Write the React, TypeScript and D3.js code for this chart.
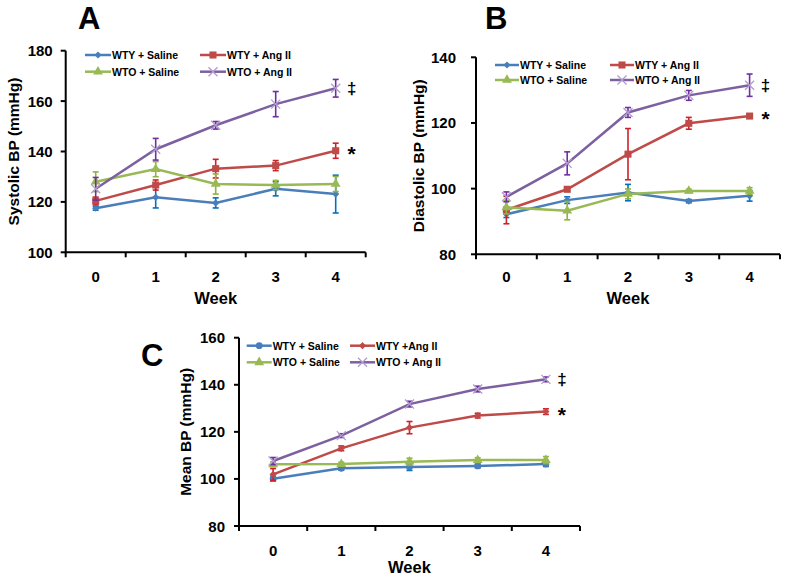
import React from 'react';
import * as d3 from 'd3';

const weeks = [0, 1, 2, 3, 4];
const seriesNames = ['WTY + Saline', 'WTY + Ang II', 'WTO + Saline', 'WTO + Ang II'];
const seriesNamesC = ['WTY + Saline', 'WTY +Ang II', 'WTO + Saline', 'WTO + Ang II'];

// Panel A - systolic BP
const sysWtySaline = [117.5, 121.8, 119.6, 125.2, 123.1];
const sysWtySalineErr = [0.8, 4.2, 2, 2.8, 7.5];
const sysWtyAng = [120.4, 126.7, 133.2, 134.4, 140.3];
const sysWtyAngErr = [1.5, 2, 3.7, 2, 3];
const sysWtoSaline = [128, 133, 127.1, 126.7, 127.1];
const sysWtoSalineErr = [3.9, 3, 4, 1.8, 3];
const sysWtoAng = [125.2, 140.9, 150.4, 158.8, 165.1];
const sysWtoAngErr = [4.5, 4.3, 1.5, 5, 3.5];

// Panel B - diastolic BP
const diaWtySaline = [92.2, 96.5, 98.8, 96.2, 97.8];
const diaWtySalineErr = [1, 1, 2.5, 0.5, 1.6];
const diaWtyAng = [93.5, 99.8, 110.5, 119.9, 122.1];
const diaWtyAngErr = [4.2, 0.5, 7.8, 1.8, 0.5];
const diaWtoSaline = [94.3, 93.3, 98.4, 99.3, 99.3];
const diaWtoSalineErr = [2, 2.8, 1.5, 0.5, 1];
const diaWtoAng = [97.5, 107.7, 123.2, 128.4, 131.5];
const diaWtoAngErr = [1.5, 3.5, 1.5, 1.5, 3.4];

// Panel C - mean BP
const meanWtySaline = [100.1, 104.5, 105.1, 105.5, 106.3];
const meanWtySalineErr = [1, 0.8, 1.5, 0.8, 1];
const meanWtyAng = [101.9, 113, 121.8, 126.9, 128.6];
const meanWtyAngErr = [2.5, 1, 2.6, 1, 1.2];
const meanWtoSaline = [106.2, 106.3, 107.3, 108, 108];
const meanWtoSalineErr = [1, 0.8, 1.5, 1, 1.5];
const meanWtoAng = [107.6, 118.4, 131.8, 138.2, 142.3];
const meanWtoAngErr = [1.5, 0.8, 1.2, 1.2, 1];

const lineColors = ['#4A7EBB', '#BE4B48', '#98B954', '#7D60A0'];
const errColors = ['#0070C0', '#D0202A', '#8DB43E', '#7030A0'];

const FONT = '"Liberation Sans", Arial, sans-serif';

type Marker = 'diamond' | 'square' | 'triangle' | 'x' | 'circle';

type PanelConfig = {
  letter: string;
  letterX: number;
  letterY: number;
  yLabel: string;
  yLabelX: number;
  x0: number;
  x1: number;
  yTop: number;
  yBottom: number;
  domain: [number, number];
  tickGap: number;
  tickLabelY: number;
  weekY: number;
  weekSize: number;
  legendRows: [number, number];
  legendCols: [number, number];
  legendLine: number;
  names: string[];
  markers: Marker[];
  values: number[][];
  errors: number[][];
};

const markerPath = (m: Marker) => {
  if (m === 'square') return d3.symbol().type(d3.symbolSquare).size(50)()!;
  if (m === 'diamond') return d3.symbol().type(d3.symbolSquare).size(26)()!;
  if (m === 'triangle') return d3.symbol().type(d3.symbolTriangle).size(42)()!;
  if (m === 'circle') return d3.symbol().type(d3.symbolCircle).size(36)()!;
  return d3.symbol().type(d3.symbolTimes).size(55)()!;
};

const MarkerGlyph = ({ m, cx, cy, color }: { m: Marker; cx: number; cy: number; color: string }) => {
  const rot = m === 'diamond' ? ' rotate(45)' : '';
  if (m === 'x') {
    return (
      <path d={markerPath(m)} transform={`translate(${cx},${cy})`} fill="none" stroke="#B39CCF" strokeWidth={1.3} />
    );
  }
  return <path d={markerPath(m)} transform={`translate(${cx},${cy})${rot}`} fill={color} />;
};

const Panel = ({ cfg }: { cfg: PanelConfig }) => {
  const band = d3.scaleBand<number>().domain(weeks).range([cfg.x0, cfg.x1]);
  const cx = (w: number) => (band(w) ?? 0) + band.bandwidth() / 2;
  const y = d3.scaleLinear().domain(cfg.domain).range([cfg.yBottom, cfg.yTop]);
  const yTicks = d3.range(cfg.domain[0], cfg.domain[1] + 1, 20);
  const xTicks = [...weeks.map(w => band(w) ?? 0), cfg.x1];
  const line = d3
    .line<number>()
    .x((_, i) => cx(weeks[i]))
    .y(d => y(d));
  const last = weeks[weeks.length - 1];

  return (
    <g fontFamily={FONT} fontWeight="bold">
      <text x={cfg.letterX} y={cfg.letterY} fontSize={31} fill="#000">
        {cfg.letter}
      </text>
      {/* axes */}
      <line x1={cfg.x0} x2={cfg.x0} y1={cfg.yTop} y2={cfg.yBottom} stroke="#000" strokeWidth={2} />
      <line x1={cfg.x0 - 1} x2={cfg.x1} y1={cfg.yBottom} y2={cfg.yBottom} stroke="#000" strokeWidth={2} />
      {yTicks.map(t => (
        <g key={t}>
          <line x1={cfg.x0 - 5} x2={cfg.x0} y1={y(t)} y2={y(t)} stroke="#000" strokeWidth={2} />
          <text x={cfg.x0 - cfg.tickGap} y={y(t) + 5.5} textAnchor="end" fontSize={15}>
            {t}
          </text>
        </g>
      ))}
      {xTicks.map((t, i) => (
        <line key={i} x1={t} x2={t} y1={cfg.yBottom} y2={cfg.yBottom + 5} stroke="#000" strokeWidth={2} />
      ))}
      {weeks.map(w => (
        <text key={w} x={cx(w)} y={cfg.tickLabelY} textAnchor="middle" fontSize={15}>
          {w}
        </text>
      ))}
      <text x={(cfg.x0 + cfg.x1) / 2} y={cfg.weekY} textAnchor="middle" fontSize={cfg.weekSize}>
        Week
      </text>
      <text
        transform={`translate(${cfg.yLabelX},${(cfg.yTop + cfg.yBottom) / 2}) rotate(-90)`}
        textAnchor="middle"
        fontSize={15.5}
      >
        {cfg.yLabel}
      </text>
      {/* series */}
      {cfg.values.map((vals, s) => (
        <g key={s}>
          <path d={line(vals) ?? ''} fill="none" stroke={lineColors[s]} strokeWidth={2.5} />
          {vals.map((v, i) => {
            const px = cx(weeks[i]);
            const e = cfg.errors[s][i];
            return (
              <g key={i} stroke={errColors[s]} strokeWidth={1.6}>
                <line x1={px} x2={px} y1={y(v - e)} y2={y(v + e)} />
                <line x1={px - 3} x2={px + 3} y1={y(v - e)} y2={y(v - e)} />
                <line x1={px - 3} x2={px + 3} y1={y(v + e)} y2={y(v + e)} />
              </g>
            );
          })}
          {vals.map((v, i) => (
            <MarkerGlyph key={i} m={cfg.markers[s]} cx={cx(weeks[i])} cy={y(v)} color={lineColors[s]} />
          ))}
        </g>
      ))}
      {/* significance marks */}
      <text x={cx(last) + 16} y={y(cfg.values[3][4]) + 6} textAnchor="middle" fontSize={17}>
        ‡
      </text>
      <text x={cx(last) + 16} y={y(cfg.values[1][4]) + 10} textAnchor="middle" fontSize={21}>
        *
      </text>
      {/* legend */}
      {cfg.names.map((name, s) => {
        const col = s % 2 === 0 ? 0 : 1;
        const row = s < 2 ? 0 : 1;
        const lx = cfg.legendCols[col];
        const ly = cfg.legendRows[row];
        return (
          <g key={name}>
            <line x1={lx} x2={lx + cfg.legendLine} y1={ly} y2={ly} stroke={lineColors[s]} strokeWidth={2.5} />
            <MarkerGlyph m={cfg.markers[s]} cx={lx + cfg.legendLine / 2} cy={ly} color={lineColors[s]} />
            <text x={lx + cfg.legendLine + 1} y={ly + 3.8} fontSize={10.5}>
              {name}
            </text>
          </g>
        );
      })}
    </g>
  );
};

const panelA: PanelConfig = {
  letter: 'A',
  letterX: 78,
  letterY: 29,
  yLabel: 'Systolic BP (mmHg)',
  yLabelX: 19,
  x0: 65.7,
  x1: 365.7,
  yTop: 50.7,
  yBottom: 252.3,
  domain: [100, 180],
  tickGap: 13,
  tickLabelY: 282,
  weekY: 304,
  weekSize: 16.5,
  legendRows: [55, 71.7],
  legendCols: [85, 200],
  legendLine: 26,
  names: seriesNames,
  markers: ['diamond', 'square', 'triangle', 'x'],
  values: [sysWtySaline, sysWtyAng, sysWtoSaline, sysWtoAng],
  errors: [sysWtySalineErr, sysWtyAngErr, sysWtoSalineErr, sysWtoAngErr],
};

const panelB: PanelConfig = {
  letter: 'B',
  letterX: 485,
  letterY: 29,
  yLabel: 'Diastolic BP (mmHg)',
  yLabelX: 424,
  x0: 476,
  x1: 780,
  yTop: 57.3,
  yBottom: 254.3,
  domain: [80, 140],
  tickGap: 20,
  tickLabelY: 282,
  weekY: 304,
  weekSize: 16.5,
  legendRows: [65, 80],
  legendCols: [495, 610],
  legendLine: 24,
  names: seriesNames,
  markers: ['diamond', 'square', 'triangle', 'x'],
  values: [diaWtySaline, diaWtyAng, diaWtoSaline, diaWtoAng],
  errors: [diaWtySalineErr, diaWtyAngErr, diaWtoSalineErr, diaWtoAngErr],
};

const panelC: PanelConfig = {
  letter: 'C',
  letterX: 141,
  letterY: 366,
  yLabel: 'Mean BP (mmHg)',
  yLabelX: 191,
  x0: 239,
  x1: 580,
  yTop: 337.7,
  yBottom: 526,
  domain: [80, 160],
  tickGap: 14,
  tickLabelY: 556,
  weekY: 573,
  weekSize: 16.5,
  legendRows: [345.7, 362.3],
  legendCols: [246.7, 350],
  legendLine: 25,
  names: seriesNamesC,
  markers: ['circle', 'diamond', 'triangle', 'x'],
  values: [meanWtySaline, meanWtyAng, meanWtoSaline, meanWtoAng],
  errors: [meanWtySalineErr, meanWtyAngErr, meanWtoSalineErr, meanWtoAngErr],
};

export default function App() {
  return (
    <svg
      width={789}
      height={575}
      viewBox="0 0 789 575"
      style={{ position: 'absolute', left: 0, top: 0, background: '#fff' }}
    >
      <rect width={789} height={575} fill="#fff" />
      <Panel cfg={panelA} />
      <Panel cfg={panelB} />
      <Panel cfg={panelC} />
    </svg>
  );
}
